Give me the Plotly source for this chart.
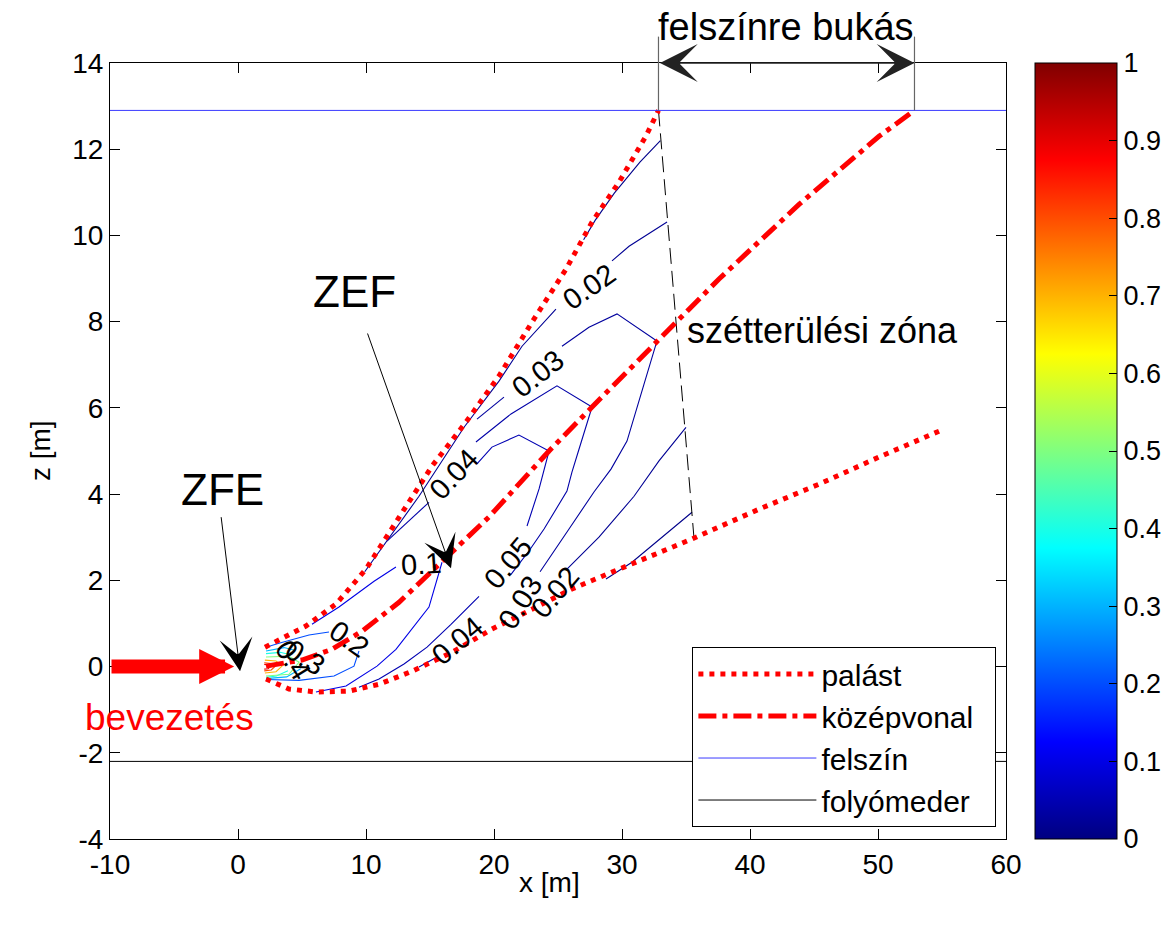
import plotly.graph_objects as go

# ---------------- data ----------------
X_RANGE = [-10, 60]
Z_RANGE = [-4, 14]
X_TICKS = [-10, 0, 10, 20, 30, 40, 50, 60]
Z_TICKS = [-4, -2, 0, 2, 4, 6, 8, 10, 12, 14]
CBAR_TICKS = [0, 0.1, 0.2, 0.3, 0.4, 0.5, 0.6, 0.7, 0.8, 0.9, 1]

SURFACE_Z = 12.9      # felszín
BED_Z = -2.2          # folyómeder
BREAK_X = [32.85, 52.85]  # felszínre bukás limits

UPPER_X = [2.11, 3.59, 5.31, 7.66, 10.0, 12.34, 15.16, 17.81, 20.39, 22.97, 25.63, 27.66, 29.77, 31.88, 32.85]
UPPER_Z = [0.45, 0.68, 0.94, 1.45, 2.26, 3.35, 4.65, 5.67, 6.74, 7.99, 9.22, 10.31, 11.24, 12.31, 12.9]

LOWER_X = [2.19, 3.98, 6.09, 8.67, 11.02, 13.59, 16.72, 19.84, 22.97, 26.09, 29.22, 32.34, 35.47, 40.70, 45.39, 50.08, 54.77]
LOWER_Z = [-0.29, -0.52, -0.59, -0.57, -0.41, -0.11, 0.33, 0.87, 1.33, 1.80, 2.19, 2.56, 2.96, 3.65, 4.23, 4.86, 5.46]

CENTER_X = [2.19, 5.0, 7.34, 9.69, 12.58, 16.09, 19.61, 21.17, 24.30, 27.66, 32.73, 37.58, 43.83, 50.08, 52.85]
CENTER_Z = [0.01, 0.15, 0.40, 0.82, 1.49, 2.47, 3.47, 3.98, 5.0, 6.02, 7.55, 8.99, 10.72, 12.30, 12.9]

ZONE_X = [32.85, 35.63]
ZONE_Z = [12.9, 2.96]

# contour polylines (None = gap under a label / separate branch)
C001_X = [27.0, 27.9, 29.4, 31.4, 33.0, None, 35.47, 33.91, 30.78, 28.75]
C001_Z = [9.9, 10.35, 10.98, 11.7, 12.2, None, 3.58, 3.19, 2.42, 2.03]
C002_X = [9.9, 14.14, 17.66, 20.39, 22.19, 24.84, None, 29.22, 30.55, 33.52, None, 35.0, 32.89, 30.94, 28.20, 25.70]
C002_Z = [2.2, 3.95, 5.55, 6.62, 7.43, 8.29, None, 9.41, 9.75, 10.31, None, 5.55, 4.77, 3.95, 3.0, 2.26]
C003_X = [18.67, 20.78, None, 25.31, 27.42, 29.61, 32.73, 31.72, 30.39, 29.14, 27.81, 25.86, 24.14, 23.6]
C003_Z = [5.74, 6.25, None, 7.43, 7.87, 8.18, 7.55, 6.55, 5.23, 4.58, 4.05, 3.19, 2.42, 2.2]
C004_X = [11.64, 14.92, None, 18.59, 21.33, 24.92, 27.66, 26.64, 26.09, 25.70, 23.91, 22.73, 21.33, None, 15.55, 14.14]
C004_Z = [2.91, 3.81, None, 5.21, 5.86, 6.51, 6.02, 5.04, 4.51, 4.07, 3.19, 2.68, 2.14, None, 0.22, -0.01]
C005_X = [18.67, 19.84, 21.95, 24.30, 23.52, 22.58, None, 18.83, 16.64, 14.77, 12.97, 11.02, 9.45]
C005_Z = [4.70, 5.09, 5.37, 5.00, 4.12, 3.26, None, 1.63, 0.98, 0.45, 0.06, -0.29, -0.48]
C010_X = [5.78, 7.89, 10.63, 12.34, None, 15.94, 14.92, 12.34, 10.86, 8.44, 6.09]
C010_Z = [0.98, 1.38, 1.98, 2.31, None, 2.42, 1.38, 0.40, 0.01, -0.45, -0.59]
C020_X = [2.19, 3.20, 5.55, 7.11, None, 9.45, 9.06, 7.50, 4.77, 2.19]
C020_Z = [0.45, 0.54, 0.73, 0.80, None, 0.36, 0.01, -0.22, -0.32, -0.30]
C030_X = [2.19, 3.6, 4.4, None, 4.9, 3.8, 2.19]
C030_Z = [0.36, 0.44, 0.38, None, -0.05, -0.24, -0.28]
C040_X = [2.19, 3.3, 4.0, None, 3.9, 3.0, 2.19]
C040_Z = [0.30, 0.33, 0.28, None, -0.10, -0.22, -0.25]
C050_X = [2.19, 3.98, 4.77, 3.98, 2.19]
C050_Z = [0.22, 0.24, 0.10, -0.18, -0.22]
C070_X = [2.10, 2.97, 3.44, 2.97, 2.10]
C070_Z = [0.15, 0.13, 0.01, -0.12, -0.15]
C080_X = [2.05, 2.6, 2.85, 2.6, 2.05]
C080_Z = [0.09, 0.07, -0.01, -0.08, -0.10]
C090_X = [2.05, 2.35, 2.5, 2.35, 2.05]
C090_Z = [0.05, 0.04, -0.01, -0.05, -0.06]

CONTOURS = [
    (0.01, C001_X, C001_Z), (0.02, C002_X, C002_Z), (0.03, C003_X, C003_Z),
    (0.04, C004_X, C004_Z), (0.05, C005_X, C005_Z), (0.1, C010_X, C010_Z),
    (0.2, C020_X, C020_Z), (0.3, C030_X, C030_Z), (0.4, C040_X, C040_Z),
    (0.5, C050_X, C050_Z), (0.7, C070_X, C070_Z), (0.8, C080_X, C080_Z),
    (0.9, C090_X, C090_Z),
]

# contour labels: text, x, z, angle
LABEL_TEXT = ["0.04", "0.03", "0.02", "0.1", "0.2", "0.3", "0.4", "0.05", "0.04", "0.03", "0.02"]
LABEL_X = [16.9, 23.4, 27.4, 14.3, 8.7, 5.2, 4.3, 21.1, 17.1, 22.0, 24.8]
LABEL_Z = [4.46, 6.78, 8.8, 2.38, 0.64, 0.22, 0.15, 2.40, 0.60, 1.48, 1.72]
LABEL_ANGLE = [-47, -38, -35, -4, 35, 32, 58, -50, -40, -58, -50]


# ---------------- helpers ----------------
def jet(v):
    def c(t):
        return max(0.0, min(1.0, t))
    r = c(min(4 * v - 1.5, -4 * v + 4.5))
    g = c(min(4 * v - 0.5, -4 * v + 3.5))
    b = c(min(4 * v + 0.5, -4 * v + 2.5))
    return "rgb(%d,%d,%d)" % (round(r * 255), round(g * 255), round(b * 255))


JET_SCALE = [[0.0, "rgb(0,0,128)"], [0.125, "rgb(0,0,255)"], [0.375, "rgb(0,255,255)"],
             [0.625, "rgb(255,255,0)"], [0.875, "rgb(255,0,0)"], [1.0, "rgb(128,0,0)"]]

FONT = "Liberation Sans, Arial, Helvetica, sans-serif"


def tick_text(vals):
    return [str(v).replace("-", "-") if v >= 0 else "-" + str(abs(v)) for v in vals]


fig = go.Figure()

# contours (thin lines)
for lev, xs, zs in CONTOURS:
    fig.add_trace(go.Scatter(x=xs, y=zs, mode="lines", line=dict(color=jet(lev), width=1.1),
                             showlegend=False, hoverinfo="skip"))

# zone boundary (dashed)
fig.add_trace(go.Scatter(x=ZONE_X, y=ZONE_Z, mode="lines", line=dict(color="black", width=1, dash="16px,7px"),
                         showlegend=False, hoverinfo="skip"))

# palást (upper + lower)
fig.add_trace(go.Scatter(x=UPPER_X + [None] + LOWER_X, y=UPPER_Z + [None] + LOWER_Z, mode="lines",
                         name="palást", line=dict(color="#ff0000", width=5, dash="5px,6px")))
# középvonal
fig.add_trace(go.Scatter(x=CENTER_X, y=CENTER_Z, mode="lines", name="középvonal\u00a0\u00a0",
                         line=dict(color="#ff0000", width=5, dash="18px,6px,5px,6px")))
# felszín
fig.add_trace(go.Scatter(x=X_RANGE, y=[SURFACE_Z, SURFACE_Z], mode="lines", name="felszín",
                         line=dict(color="#3a3aff", width=1)))
# folyómeder
fig.add_trace(go.Scatter(x=X_RANGE, y=[BED_Z, BED_Z], mode="lines", name="folyómeder",
                         line=dict(color="black", width=1)))

# colorbar carrier (point outside the visible range)
fig.add_trace(go.Scatter(x=[-100], y=[-100], mode="markers", showlegend=False, hoverinfo="skip",
                         marker=dict(color=[0.5], cmin=0, cmax=1, colorscale=JET_SCALE, showscale=True,
                                     colorbar=dict(x=1.0324, xanchor="left", y=0.5, yanchor="middle",
                                                   thicknessmode="pixels", thickness=82,
                                                   lenmode="pixels", len=776, xpad=0, ypad=0,
                                                   outlinewidth=1, outlinecolor="black",
                                                   tickvals=CBAR_TICKS, ticks="inside", ticklen=8,
                                                   tickcolor="black",
                                                   tickfont=dict(family=FONT, size=27, color="black")))))

ann = []
# contour labels
for t, x, z, a in zip(LABEL_TEXT, LABEL_X, LABEL_Z, LABEL_ANGLE):
    ann.append(dict(x=x, y=z, xref="x", yref="y", text=t, showarrow=False, textangle=a,
                    font=dict(family=FONT, size=29, color="black")))

# texts
ann.append(dict(x=-1.25, y=4.10, xref="x", yref="y", text="ZFE", showarrow=False,
                font=dict(family=FONT, size=44, color="black")))
ann.append(dict(x=9.13, y=8.70, xref="x", yref="y", text="ZEF", showarrow=False,
                font=dict(family=FONT, size=44, color="black")))
ann.append(dict(x=-5.33, y=-1.19, xref="x", yref="y", text="bevezetés", showarrow=False,
                font=dict(family=FONT, size=37, color="#ff0000")))
ann.append(dict(x=34.9, y=7.80, xref="x", yref="y", text="szétterülési zóna", showarrow=False,
                xanchor="left", yanchor="middle", font=dict(family=FONT, size=36, color="black")))
ann.append(dict(x=42.8, y=1.0458, xref="x", yref="paper", text="felszínre bukás", showarrow=False,
                xanchor="center", yanchor="middle", font=dict(family=FONT, size=38, color="black")))
ann.append(dict(x=0.491, y=-0.056, xref="paper", yref="paper", text="x [m]", showarrow=False,
                xanchor="center", yanchor="middle", font=dict(family=FONT, size=28, color="black")))
ann.append(dict(x=-0.078, y=0.5, xref="paper", yref="paper", text="z [m]", showarrow=False,
                xanchor="center", yanchor="middle",
                textangle=-90, font=dict(family=FONT, size=28, color="black")))

# arrows
ann.append(dict(x=0.16, y=-0.11, ax=-1.33, ay=3.5, xref="x", yref="y", axref="x", ayref="y",
                text="", showarrow=True, arrowhead=3, arrowsize=5.5, arrowwidth=1, arrowcolor="black"))
ann.append(dict(x=16.64, y=2.28, ax=10.08, ay=7.76, xref="x", yref="y", axref="x", ayref="y",
                text="", showarrow=True, arrowhead=3, arrowsize=5.5, arrowwidth=1, arrowcolor="black"))
ann.append(dict(x=-0.3, y=0.0, ax=-10, ay=0.0, xref="x", yref="y", axref="x", ayref="y",
                text="", showarrow=True, arrowhead=2, arrowsize=0.5, arrowwidth=14, arrowcolor="#ff0000"))
ann.append(dict(x=BREAK_X[1], y=14, ax=BREAK_X[0], ay=14, xref="x", yref="y", axref="x", ayref="y",
                text="", showarrow=True, arrowside="end+start", arrowhead=3, startarrowhead=3,
                arrowsize=4.2, startarrowsize=4.2, arrowwidth=1.5, arrowcolor="#222222"))

shapes = []
for bx in BREAK_X:
    shapes.append(dict(type="line", xref="x", yref="paper", x0=bx, x1=bx,
                       y0=(SURFACE_Z - Z_RANGE[0]) / (Z_RANGE[1] - Z_RANGE[0]), y1=1.034,
                       line=dict(color="#666666", width=1.2)))

fig.update_layout(
    width=1171, height=927,
    margin=dict(l=110, r=165, t=63, b=88, autoexpand=False),
    paper_bgcolor="white", plot_bgcolor="white",
    font=dict(family=FONT, size=28, color="black"),
    annotations=ann, shapes=shapes,
    legend=dict(x=0.650, y=0.2474, xanchor="left", yanchor="top",
                bgcolor="white", bordercolor="black", borderwidth=1,
                font=dict(family=FONT, size=30, color="black"), itemwidth=118,
                tracegroupgap=0),
)
fig.update_xaxes(range=X_RANGE, tickvals=X_TICKS, ticktext=tick_text(X_TICKS),
                 showgrid=False, zeroline=False,
                 showline=True, linecolor="black", linewidth=1, mirror="ticks",
                 ticks="inside", ticklen=10, tickcolor="black",
                 tickfont=dict(family=FONT, size=28, color="black"))
fig.update_yaxes(range=Z_RANGE, tickvals=Z_TICKS, ticktext=tick_text(Z_TICKS),
                 showgrid=False, zeroline=False,
                 showline=True, linecolor="black", linewidth=1, mirror="ticks",
                 ticks="inside", ticklen=10, tickcolor="black",
                 tickfont=dict(family=FONT, size=28, color="black"))

fig.write_html("out.html")
